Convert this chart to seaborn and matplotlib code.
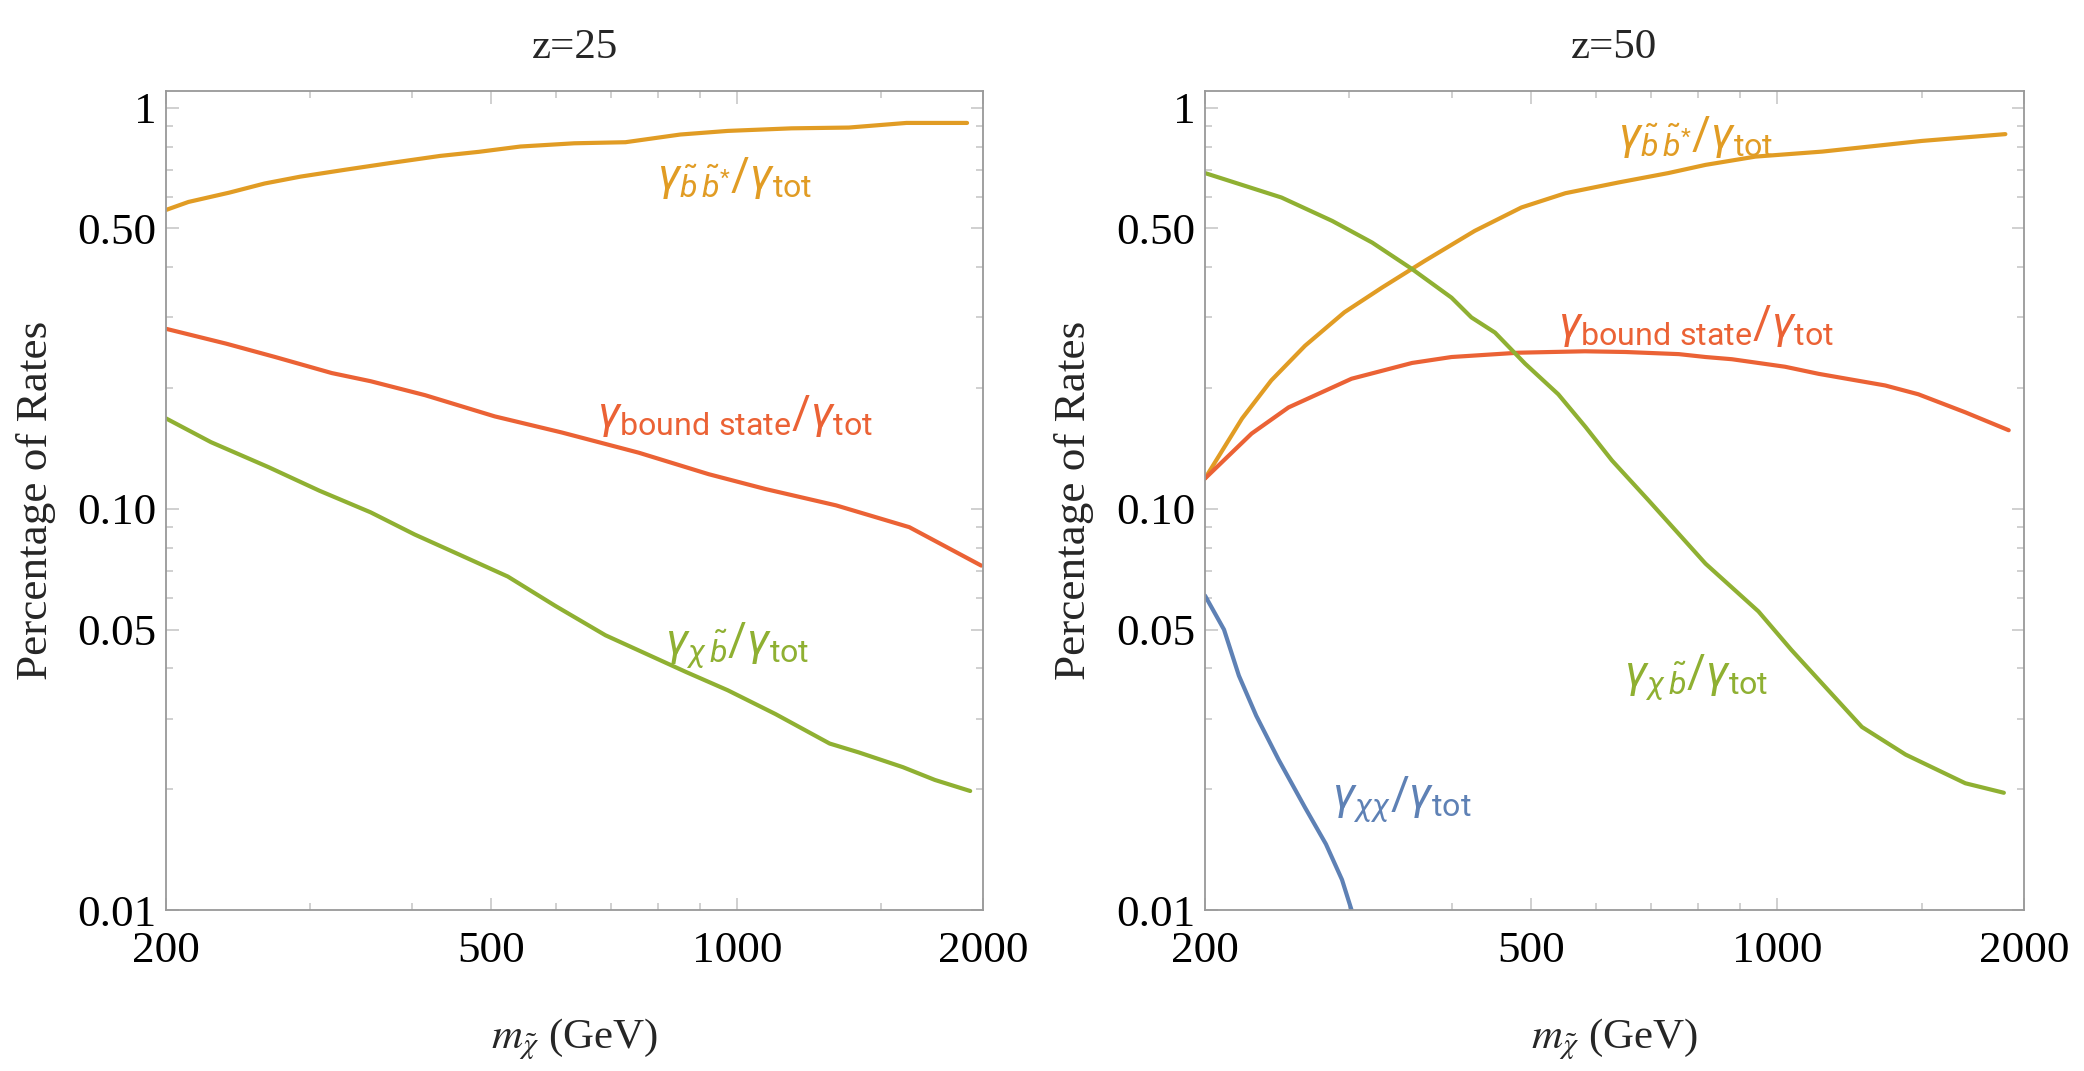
import matplotlib
matplotlib.use("Agg")
import numpy as np
import pandas as pd
import matplotlib.pyplot as plt
import seaborn as sns
from matplotlib.ticker import FixedLocator, NullFormatter, FixedFormatter

# ---- data (mass in GeV, rate fraction) ----
# z = 25
m_bb_25 = [200, 213, 239, 264, 292, 331, 375, 433, 483, 543, 632, 730, 852, 974, 1166, 1370, 1612, 1912]
r_bb_25 = [0.556, 0.582, 0.614, 0.647, 0.673, 0.700, 0.727, 0.758, 0.776, 0.800, 0.815, 0.820, 0.857, 0.875, 0.888, 0.892, 0.916, 0.916]

m_bs_25 = [200, 237, 272, 319, 356, 415, 505, 610, 758, 923, 1084, 1322, 1625, 1990]
r_bs_25 = [0.281, 0.258, 0.239, 0.218, 0.208, 0.192, 0.170, 0.155, 0.138, 0.122, 0.112, 0.102, 0.090, 0.0722]

m_xb_25 = [200, 227, 267, 308, 356, 403, 457, 524, 599, 690, 866, 974, 1114, 1298, 1410, 1596, 1746, 1929]
r_xb_25 = [0.168, 0.1466, 0.127, 0.111, 0.098, 0.0863, 0.0769, 0.0678, 0.0573, 0.0484, 0.0392, 0.0353, 0.0308, 0.0260, 0.0247, 0.0227, 0.0211, 0.0198]

# z = 50
m_bb_50 = [200, 222, 241, 265, 296, 329, 371, 427, 487, 551, 640, 736, 817, 940, 1134, 1500, 1898]
r_bb_50 = [0.119, 0.168, 0.209, 0.255, 0.309, 0.356, 0.415, 0.493, 0.564, 0.612, 0.651, 0.687, 0.720, 0.755, 0.777, 0.826, 0.859]

m_bs_50 = [200, 228, 253, 302, 358, 400, 483, 582, 652, 758, 817, 880, 1022, 1123, 1354, 1486, 1696, 1916]
r_bs_50 = [0.119, 0.154, 0.179, 0.211, 0.231, 0.239, 0.245, 0.247, 0.246, 0.243, 0.239, 0.236, 0.226, 0.217, 0.203, 0.193, 0.174, 0.157]

m_xb_50 = [200, 248, 286, 320, 358, 400, 423, 452, 492, 540, 583, 628, 696, 817, 948, 1040, 1268, 1434, 1696, 1890]
r_xb_50 = [0.687, 0.597, 0.522, 0.461, 0.396, 0.336, 0.300, 0.275, 0.230, 0.193, 0.160, 0.132, 0.105, 0.0730, 0.0555, 0.0445, 0.0286, 0.0244, 0.0207, 0.0196]

m_xx_50 = [200, 211, 220, 231, 246, 265, 281, 294, 302, 306]
r_xx_50 = [0.0608, 0.0500, 0.0384, 0.0305, 0.0237, 0.0180, 0.0146, 0.0119, 0.0100, 0.0085]

titles = ["z=25", "z=50"]
y_ticks = [0.01, 0.05, 0.1, 0.5, 1]
y_tick_labels = ["0.01", "0.05", "0.10", "0.50", "1"]
x_ticks = [200, 500, 1000, 2000]
x_tick_labels = ["200", "500", "1000", "2000"]
x_minor = [300, 400, 600, 700, 800, 900, 1500]
y_minor = [0.02, 0.03, 0.04, 0.06, 0.07, 0.08, 0.09, 0.2, 0.3, 0.4, 0.6, 0.7, 0.8, 0.9]

orange = "#E19C24"
red = "#EB6235"
green = "#8FB032"
blue = "#5E81B5"

lab_bb = r"$\gamma_{\tilde{b}\,\tilde{b}^{*}}/\gamma_{\mathrm{tot}}$"
lab_bs = r"$\gamma_{\mathrm{bound\ state}}/\gamma_{\mathrm{tot}}$"
lab_xb = r"$\gamma_{\chi\,\tilde{b}}/\gamma_{\mathrm{tot}}$"
lab_xx = r"$\gamma_{\chi\chi}/\gamma_{\mathrm{tot}}$"

sns.set_theme(style="white")
plt.rcParams["font.family"] = ["Liberation Serif", "DejaVu Serif"]
plt.rcParams["mathtext.fontset"] = "custom"
plt.rcParams["mathtext.rm"] = "Roboto"
plt.rcParams["mathtext.it"] = "Roboto:italic"
plt.rcParams["mathtext.bf"] = "Roboto:bold"

fig = plt.figure(figsize=(20.84, 10.71), dpi=100)
ax1 = fig.add_axes([0.0797, 0.1503, 0.3920, 0.7647])
ax2 = fig.add_axes([0.5782, 0.1503, 0.3930, 0.7647])

panels = [
    (ax1, [(m_bb_25, r_bb_25, orange), (m_bs_25, r_bs_25, red), (m_xb_25, r_xb_25, green)]),
    (ax2, [(m_bb_50, r_bb_50, orange), (m_bs_50, r_bs_50, red), (m_xb_50, r_xb_50, green), (m_xx_50, r_xx_50, blue)]),
]

for (ax, series), title in zip(panels, titles):
    for mx, rx, col in series:
        df = pd.DataFrame({"m": mx, "r": rx})
        sns.lineplot(data=df, x="m", y="r", ax=ax, color=col, lw=3.0, estimator=None, sort=False)
    ax.set_xscale("log")
    ax.set_yscale("log")
    ax.set_xlim(200, 2000)
    ax.set_ylim(0.01, 1.1)
    ax.xaxis.set_major_locator(FixedLocator(x_ticks))
    ax.xaxis.set_major_formatter(FixedFormatter(x_tick_labels))
    ax.xaxis.set_minor_locator(FixedLocator(x_minor))
    ax.xaxis.set_minor_formatter(NullFormatter())
    ax.yaxis.set_major_locator(FixedLocator(y_ticks))
    ax.yaxis.set_major_formatter(FixedFormatter(y_tick_labels))
    ax.yaxis.set_minor_locator(FixedLocator(y_minor))
    ax.yaxis.set_minor_formatter(NullFormatter())
    ax.tick_params(which="both", direction="in", top=True, right=True, bottom=True, left=True,
                   color="#C8C8C8", width=1.2)
    ax.tick_params(which="major", length=9, labelsize=32.5, labelcolor="black")
    ax.tick_params(which="minor", length=5)
    ax.tick_params(axis="x", which="major", pad=15)
    ax.tick_params(axis="y", which="major", pad=7)
    for sp in ax.spines.values():
        sp.set_color("#999999")
        sp.set_linewidth(1.3)
    ax.set_title(title, fontsize=31, pad=24)
    ax.set_xlabel(r"$m_{\tilde{\chi}}$ (GeV)", fontsize=31, math_fontfamily="stix")
    ax.xaxis.set_label_coords(0.5, -0.13)
    ax.set_ylabel("Percentage of Rates", fontsize=32.5)
    ax.yaxis.set_label_coords(-0.135, 0.5)

fs = 33
ax1.text(994, 0.667, lab_bb, color=orange, fontsize=fs, ha="center", va="center")
ax1.text(994, 0.170, lab_bs, color=red, fontsize=fs, ha="center", va="center")
ax1.text(1000, 0.0458, lab_xb, color=green, fontsize=fs, ha="center", va="center")

ax2.text(795, 0.845, lab_bb, color=orange, fontsize=fs, ha="center", va="center")
ax2.text(795, 0.285, lab_bs, color=red, fontsize=fs, ha="center", va="center")
ax2.text(795, 0.0380, lab_xb, color=green, fontsize=fs, ha="center", va="center")
ax2.text(348, 0.0189, lab_xx, color=blue, fontsize=fs, ha="center", va="center")

fig.savefig("out.png", dpi=100)
